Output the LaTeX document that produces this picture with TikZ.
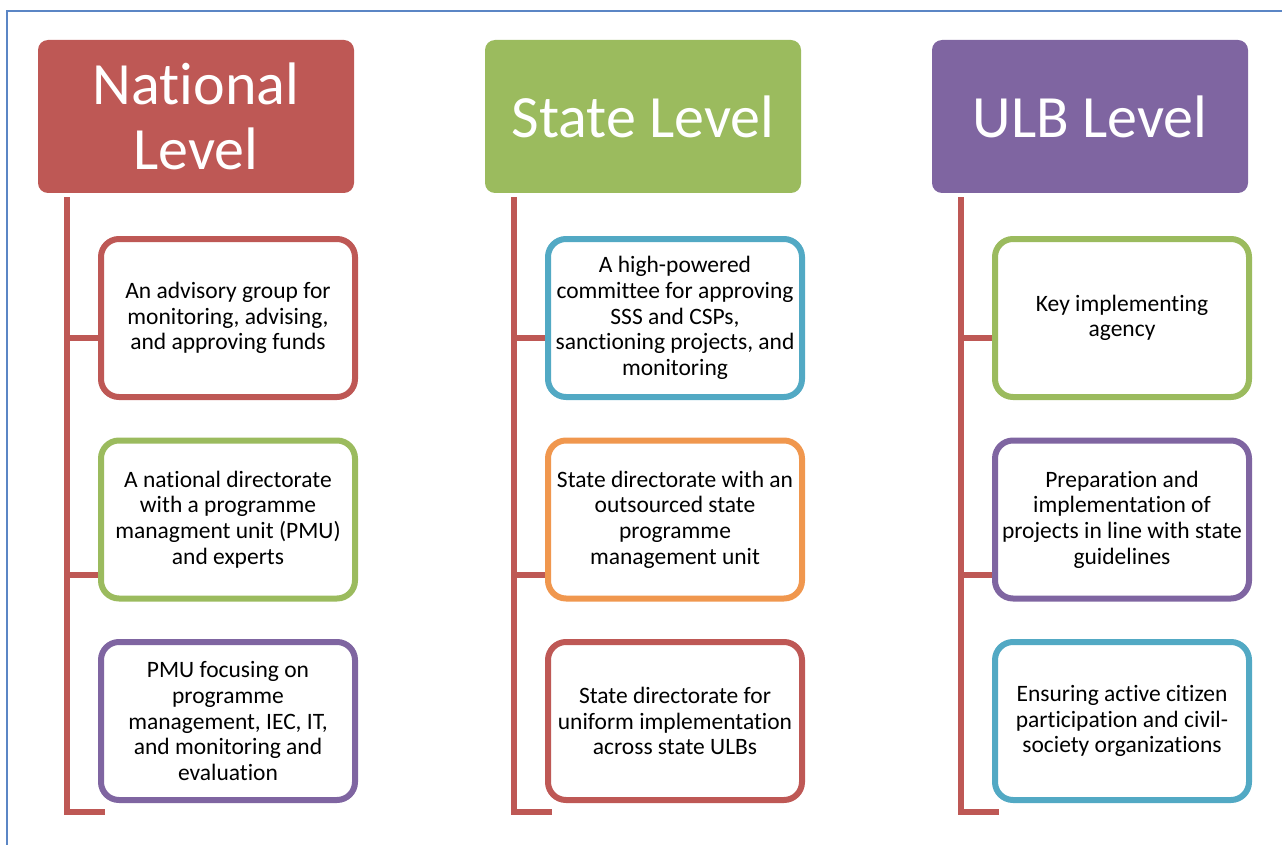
\documentclass[tikz,border=0pt]{standalone}
\usepackage{fontspec}
\setmainfont{Carlito}[Ligatures={NoCommon}]
\usepackage{tikz}

\definecolor{natred}{HTML}{BE5855}
\definecolor{stgreen}{HTML}{9BBB5E}
\definecolor{ulbpurple}{HTML}{7F65A1}
\definecolor{boxblue}{HTML}{52A9C4}
\definecolor{boxorange}{HTML}{F0974E}
\definecolor{framebl}{HTML}{5B86C5}

\tikzset{
  headbox/.style={fill=#1, rounded corners=10pt, minimum width=316pt,
    minimum height=153pt, text=white, align=center,
    font=\fontsize{60}{65}\selectfont},
  itembox/.style={draw=#1, fill=white, line width=6pt, rounded corners=18pt,
    minimum width=254pt, minimum height=158pt, align=center,
    font=\fontsize{23.5}{25.7}\selectfont},
  trunk/.style={draw=natred, line width=6pt}
}

\begin{document}
\begin{tikzpicture}[node distance=201.5pt]
    \useasboundingbox (0,0) rectangle (1282pt,-845pt);
    \draw[framebl, line width=2.5pt] (7pt,-845pt) -- (7pt,-11pt) -- (1282pt,-11pt);

    % Place the level headers
    \node (N) [headbox=natred] at (196pt,-116.5pt) {National\\Level};
    \node (S) [headbox=stgreen, right of=N, xshift=245.5pt] {State Level};
    \node (U) [headbox=ulbpurple, right of=S, xshift=245.5pt] {ULB Level};

    % Place the boxes under each header
    \node (N1) [itembox=natred, below of=N, xshift=32pt] {An advisory group for\\monitoring, advising,\\and approving funds};
    \node (N2) [itembox=stgreen, below of=N1] {A national directorate\\with a programme\\managment unit (PMU)\\and experts};
    \node (N3) [itembox=ulbpurple, below of=N2] {PMU focusing on\\programme\\management, IEC, IT,\\and monitoring and\\evaluation};

    \node (S1) [itembox=boxblue, below of=S, xshift=32pt] {A high-powered\\committee for approving\\SSS and CSPs,\\sanctioning projects, and\\monitoring};
    \node (S2) [itembox=boxorange, below of=S1] {State directorate with an\\outsourced state\\programme\\management unit};
    \node (S3) [itembox=natred, below of=S2] {State directorate for\\uniform implementation\\across state ULBs};

    \node (U1) [itembox=stgreen, below of=U, xshift=32pt] {Key implementing\\agency};
    \node (U2) [itembox=ulbpurple, below of=U1] {Preparation and\\implementation of\\projects in line with state\\guidelines};
    \node (U3) [itembox=boxblue, below of=U2] {Ensuring active citizen\\participation and civil-\\society organizations};

    % Draw the trunk lines and the branches
    \foreach \c in {N,S,U} {
        \draw[trunk] ([xshift=29pt,yshift=-4pt]\c.south west) coordinate (\c-top)
            -- ++(0,-615pt) -- ++(38pt,0);
        \coordinate (\c-b1) at ([yshift=-141pt]\c-top);
        \coordinate (\c-b2) at ([yshift=-378pt]\c-top);
        \draw[trunk] (\c-b1) -- (\c-b1 -| \c1.west);
        \draw[trunk] (\c-b2) -- (\c-b2 -| \c2.west);
    }
\end{tikzpicture}
\end{document}
